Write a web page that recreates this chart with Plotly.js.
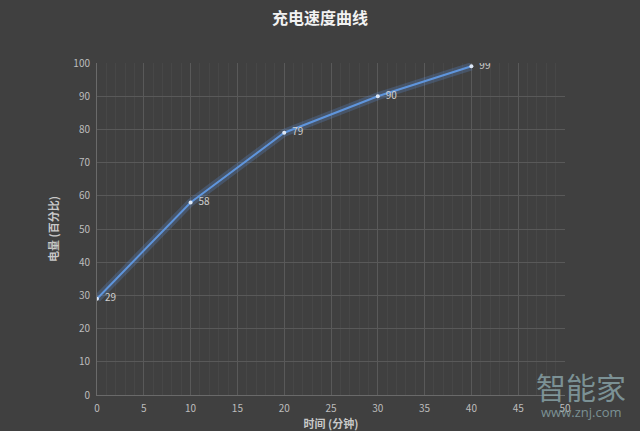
<!DOCTYPE html>
<html><head><meta charset="utf-8">
<script src="https://cdn.plot.ly/plotly-3.0.1.min.js"></script>
<style>html,body{margin:0;padding:0;background:#404040;}#chart{width:640px;height:431px;}</style>
</head><body><div id="chart"></div>
<script>
const minutes = [0, 10, 20, 30, 40];
const battery = [29, 58, 79, 90, 99];
const chartTitle = '充电速度曲线';
const xTitle = '时间 (分钟)';
const yTitle = '电量 (百分比)';

const font = '"Noto Sans CJK SC", "Noto Sans", sans-serif';
const glow = {
  x: minutes, y: battery, mode: 'lines', hoverinfo: 'skip', showlegend: false,
  line: {color: 'rgba(90,145,220,0.25)', width: 8}
};
const main = {
  x: minutes, y: battery, mode: 'lines+markers+text', showlegend: false,
  text: battery.map(v => '  ' + v), textposition: 'middle right',
  textfont: {color: '#cfcfcf', size: 10, family: font},
  line: {color: '#5f95dc', width: 2},
  marker: {color: '#dde8f7', size: 4}
};
const layout = {
  width: 640, height: 431,
  paper_bgcolor: '#404040', plot_bgcolor: '#404040',
  margin: {l: 97, r: 75, t: 63, b: 36},
  title: {text: chartTitle, font: {family: font, size: 16, color: '#f2f2f2', weight: 'bold'}, x: 0.5, xanchor: 'center', y: 0.958, yanchor: 'middle'},
  xaxis: {
    range: [0, 50], tick0: 0, dtick: 5, showline: true, linecolor: '#6a6a6a', zeroline: false,
    gridcolor: '#595959', gridwidth: 1,
    minor: {dtick: 1, showgrid: true, gridcolor: '#474747', gridwidth: 1},
    tickfont: {family: font, size: 10, color: '#bdbdbd'}, ticks: '', ticklen: 0, ticklabelstandoff: 4,
    title: {text: xTitle, font: {family: font, size: 11, color: '#c8c8c8', weight: 'bold'}, standoff: 0},
    fixedrange: true
  },
  yaxis: {
    range: [0, 100], tick0: 0, dtick: 10, showline: true, linecolor: '#6a6a6a', zeroline: false,
    gridcolor: '#595959', gridwidth: 1,
    tickfont: {family: font, size: 10, color: '#bdbdbd'}, ticks: '', ticklen: 0, ticklabelstandoff: 4,
    title: {text: yTitle, font: {family: font, size: 11, color: '#c8c8c8', weight: 'bold'}, standoff: 12},
    fixedrange: true
  },
  annotations: [
    {xref: 'paper', yref: 'paper', x: 1.035, y: 0.027, xanchor: 'center', yanchor: 'middle', showarrow: false,
     text: '智能家', font: {family: font, size: 30, color: 'rgba(135,160,165,0.85)'}},
    {xref: 'paper', yref: 'paper', x: 1.035, y: -0.05, xanchor: 'center', yanchor: 'middle', showarrow: false,
     text: 'www.znj.com', font: {family: '"Open Sans", sans-serif', size: 13, color: 'rgba(135,160,165,0.85)'}}
  ]
};
Plotly.newPlot('chart', [glow, main], layout, {displayModeBar: false, staticPlot: true});
</script></body></html>
